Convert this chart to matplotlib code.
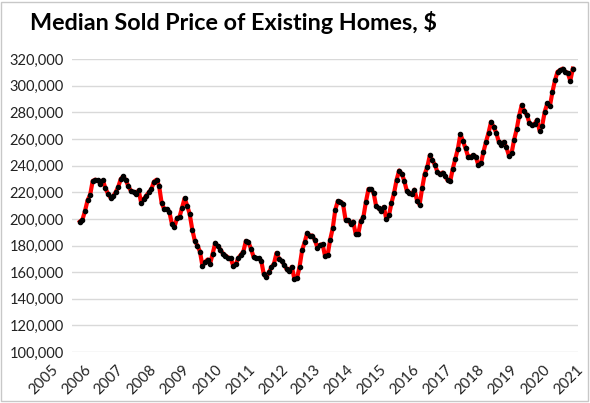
import numpy as np
import matplotlib.pyplot as plt
from matplotlib.patches import Rectangle

# median sold price of existing homes, monthly, Jan 2005 - Feb 2021 (thousands $)
p2005 = [198, 199.5, 206, 214, 218, 228.5, 229.5, 229, 226.5, 229, 223, 219]
p2006 = [216, 217, 220, 224, 230, 232, 229, 224.5, 221, 220.5, 219, 221.5]
p2007 = [212, 215, 217.5, 220, 222.5, 228, 229.5, 225, 212, 207.5, 207.5, 205.5]
p2008 = [196.5, 194, 200.5, 201.5, 208.5, 215.5, 210, 203.5, 192, 183.5, 180, 175.5]
p2009 = [164.5, 167.5, 169.5, 166.5, 174, 182, 179.5, 177, 174, 172.5, 171, 170.5]
p2010 = [165, 166, 170.5, 173, 175.5, 183.5, 182.5, 177.5, 171.5, 170.5, 170.5, 168.5]
p2011 = [158.5, 156, 160, 163.5, 166.5, 174.5, 170, 168.5, 165.5, 162, 160.5, 164]
p2012 = [154.5, 155.5, 164, 176.5, 182.5, 189.5, 187.5, 187.5, 184, 178.5, 180.5, 181]
p2013 = [172, 173, 184.5, 193, 207, 213.5, 213, 211.5, 199.5, 199, 196.5, 198]
p2014 = [188.5, 189, 198.5, 201.5, 213, 222.5, 222.5, 219.5, 209.5, 208, 206, 209]
p2015 = [199.6, 202.6, 212.1, 219.4, 229.4, 236.4, 234.0, 228.7, 221.1, 219.6, 218.5, 222]
p2016 = [213.8, 210.8, 223.1, 233.7, 238.9, 247.7, 244.1, 240.7, 235.2, 233.5, 234.9, 232.2]
p2017 = [228.9, 228.4, 237.8, 245.2, 252.8, 263.8, 258.3, 253.1, 246.8, 246.8, 248.0, 246.8]
p2018 = [240.5, 241.7, 250.4, 257.9, 264.8, 273.0, 269.0, 264.8, 258.1, 255.4, 257.9, 253.7]
p2019 = [247.5, 249.4, 259.4, 267.3, 277.7, 285.7, 280.8, 278.2, 272.1, 270.9, 271.3, 274.5]
p2020 = [266.3, 270.1, 280.6, 286.8, 284.6, 295.3, 304.1, 310.6, 311.8, 313.0, 310.8, 309.8]
p2021 = [303.9, 313.0]

years = list(range(2005, 2022))
yticks = list(range(100000, 320001, 20000))

price = np.array(p2005 + p2006 + p2007 + p2008 + p2009 + p2010 + p2011 + p2012 + p2013
                 + p2014 + p2015 + p2016 + p2017 + p2018 + p2019 + p2020 + p2021) * 1000
months = np.arange(len(price))

plt.rcParams['font.family'] = ['Lato', 'DejaVu Sans']

fig = plt.figure(figsize=(5.9, 4.03), dpi=100)
ax = fig.add_axes([0.122, 0.1266, 0.858, 0.7263])

ax.plot(months, price, color='#ff0000', lw=3, zorder=3)
ax.plot(months, price, 'o', color='black', ms=3, zorder=4)

ax.set_ylim(100000, 320000)
ax.set_xlim(-3.1, len(price) + 1.1)
ax.set_yticks(yticks)
ax.set_yticklabels([f'{v:,}' for v in yticks], fontsize=10.5, color='#222222')
ax.set_xticks([])
ax.grid(axis='y', color='#d9d9d9', lw=1)
ax.set_axisbelow(True)
ax.tick_params(axis='y', length=0, pad=6)
for s in ax.spines.values():
    s.set_visible(False)

# year labels, rotated like the original
for k, yr in enumerate(years):
    xf = (51 + 32.8 * k - 72) / 506.0
    ax.text(xf, -0.035, str(yr), transform=ax.transAxes, rotation=45,
            ha='right', va='top', rotation_mode='anchor', fontsize=10.8,
            color='#222222', clip_on=False)

fig.text(0.051, 0.945, 'Median Sold Price of Existing Homes, $', fontsize=16.8,
         fontweight='bold', ha='left', va='center')

fig.patches.append(Rectangle((0.002, 0.004), 0.995, 0.992, transform=fig.transFigure,
                             fill=False, edgecolor='#c8c8c8', lw=1))

fig.savefig('out.png', dpi=100)
